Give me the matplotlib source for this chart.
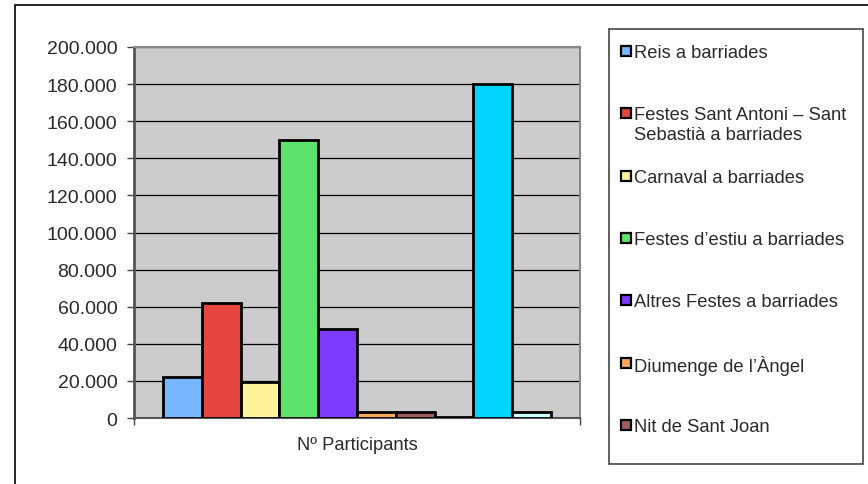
import matplotlib
matplotlib.use("Agg")
import matplotlib.pyplot as plt
from matplotlib.patches import Rectangle
from matplotlib.ticker import FuncFormatter, MultipleLocator

plt.rcParams['font.family'] = ['Liberation Sans', 'DejaVu Sans']

# ---- data ----
series_names = [
    "Reis a barriades",
    "Festes Sant Antoni – Sant\nSebastià a barriades",
    "Carnaval a barriades",
    "Festes d’estiu a barriades",
    "Altres Festes a barriades",
    "Diumenge de l’Àngel",
    "Nit de Sant Joan",
    "Serie 8",
    "Serie 9",
    "Serie 10",
]
values = [22000, 62000, 19500, 150000, 48000, 3000, 3500, 800, 180000, 3000]
colors = ["#76B7FF", "#E64540", "#FFF39A", "#5CE36B", "#7E3AFF",
          "#F9A85A", "#9E5E5E", "#30305A", "#00D4FF", "#CCFFFF"]
legend_count = 7
category_label = "Nº Participants"
y_max = 200000
y_step = 20000

W, H = 868, 485
fig = plt.figure(figsize=(W / 100, H / 100), dpi=100)
fig.patch.set_facecolor("white")

def fx(px):
    return px / W

def fy(py):
    return 1 - py / H

# outer frame
fig.patches.append(Rectangle((fx(15), fy(492)), fx(870) - fx(15), fy(6) - fy(492),
                             transform=fig.transFigure, fill=False,
                             edgecolor="black", linewidth=1.2, clip_on=False))

ax = fig.add_axes([fx(134), fy(419), fx(580) - fx(134), fy(48) - fy(419)])
ax.set_facecolor("#CCCCCC")

xs = list(range(len(values)))
ax.bar(xs, values, width=1.0, color=colors, edgecolor="black", linewidth=2.0, zorder=3)

ax.set_xlim(-1.25, len(values) - 1 + 1.25)
ax.set_ylim(0, y_max)
ax.yaxis.set_major_locator(MultipleLocator(y_step))
ax.yaxis.set_major_formatter(FuncFormatter(lambda v, p: f"{int(v):,}".replace(",", ".")))
ax.grid(axis="y", color="black", linewidth=0.9, zorder=1)
ax.set_axisbelow(True)

ax.set_xticks([-1.25, len(values) - 1 + 1.25])
ax.set_xticklabels(["", ""])
ax.tick_params(axis="x", direction="out", length=5, width=1, color="#444444")
ax.tick_params(axis="y", direction="out", length=5, width=1, color="#444444",
               labelsize=14, labelcolor="#2a2a2a", pad=7)

for s in ["top", "right"]:
    ax.spines[s].set_color("#888888")
    ax.spines[s].set_linewidth(1.5)
ax.spines["left"].set_color("#555555")
ax.spines["left"].set_linewidth(2)
ax.spines["bottom"].set_color("#555555")
ax.spines["bottom"].set_linewidth(1.5)

fig.text(fx(357), fy(446), category_label, ha="center", va="center",
         fontsize=13.2, color="#2a2a2a")

# legend box
fig.patches.append(Rectangle((fx(609), fy(465)), fx(863) - fx(609), fy(30) - fy(465),
                             transform=fig.transFigure, fill=True, facecolor="white",
                             edgecolor="#444444", linewidth=1.2))
for i in range(legend_count):
    yc = 53 + 62.3 * i
    fig.patches.append(Rectangle((fx(621), fy(yc + 4)), fx(631) - fx(621), fy(yc - 6) - fy(yc + 4),
                                 transform=fig.transFigure, facecolor=colors[i],
                                 edgecolor="black", linewidth=1.6))
    fig.text(fx(634), fy(yc - 8), series_names[i], ha="left", va="top",
             fontsize=13.2, color="#2a2a2a", linespacing=1.2)

fig.savefig("out.png", dpi=100)
